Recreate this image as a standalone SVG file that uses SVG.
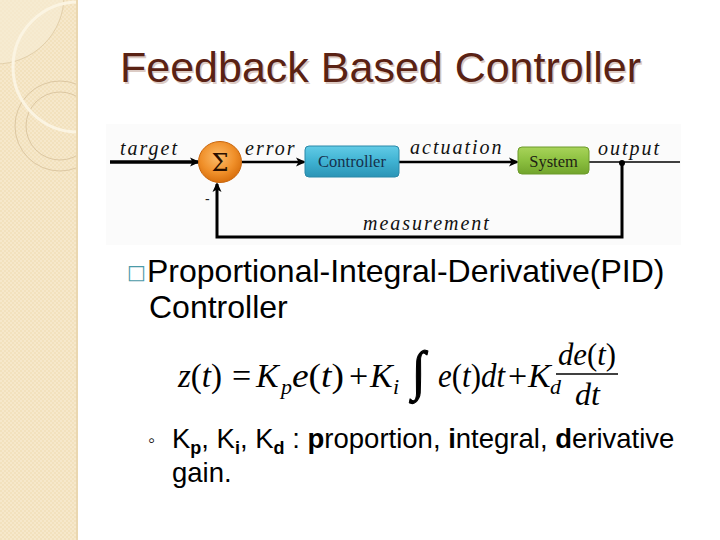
<svg xmlns="http://www.w3.org/2000/svg" width="720" height="540" viewBox="0 0 720 540">
  <defs>
    <pattern id="chk" width="4" height="4" patternUnits="userSpaceOnUse">
      <rect width="4" height="4" fill="#f2e1bd"/>
      <rect width="2" height="2" fill="#f6e8cb"/>
      <rect x="2" y="2" width="2" height="2" fill="#f6e8cb"/>
    </pattern>
    <clipPath id="stripClip"><rect x="0" y="0" width="78" height="540"/></clipPath>
    <radialGradient id="orange" cx="45%" cy="38%" r="65%">
      <stop offset="0" stop-color="#fcbc6a"/>
      <stop offset="0.6" stop-color="#f0902a"/>
      <stop offset="1" stop-color="#d66c0a"/>
    </radialGradient>
    <linearGradient id="blue" x1="0" y1="0" x2="0" y2="1">
      <stop offset="0" stop-color="#62cbe6"/>
      <stop offset="0.5" stop-color="#3fb2d2"/>
      <stop offset="1" stop-color="#2b94b6"/>
    </linearGradient>
    <linearGradient id="green" x1="0" y1="0" x2="0" y2="1">
      <stop offset="0" stop-color="#a8d45a"/>
      <stop offset="0.5" stop-color="#8cc040"/>
      <stop offset="1" stop-color="#72a42c"/>
    </linearGradient>
    <marker id="arr" viewBox="0 0 10 10" refX="8" refY="5" markerWidth="10" markerHeight="10" markerUnits="userSpaceOnUse" orient="auto">
      <path d="M0,0.5 L10,5 L0,9.5 L2.5,5 z" fill="#000"/>
    </marker>
    <style>
      .lbl { font-family: "Liberation Serif", "Times New Roman", serif; font-style: italic; font-size: 20px; letter-spacing: 2px; fill: #111; }
      .box { font-family: "Liberation Serif", "Times New Roman", serif; font-size: 16.5px; text-anchor: middle; }
      .body { font-family: "Liberation Sans", Arial, sans-serif; fill: #000; }
      .math { font-family: "Liberation Serif", "Times New Roman", serif; font-size: 34px; fill: #000; }
      .frac { font-family: "Liberation Serif", "Times New Roman", serif; font-size: 32px; fill: #000; }
      .sub { font-family: "Liberation Serif", "Times New Roman", serif; font-size: 22px; font-style: italic; fill: #000; }
      .it { font-style: italic; }
      .ln { fill: none; stroke: #000; }
    </style>
  </defs>

  <rect width="720" height="540" fill="#ffffff"/>

  <!-- decorative left strip -->
  <g id="strip">
    <rect x="0" y="0" width="78" height="540" fill="url(#chk)"/>
    <g clip-path="url(#stripClip)">
      <circle cx="-4" cy="-4" r="68" fill="#f7ecd6" fill-opacity="0.6" stroke="#e2cfaa" stroke-width="1"/>
      <circle cx="60" cy="126" r="45" fill="none" stroke="#dcc7a2" stroke-width="1"/>
      <circle cx="60" cy="126" r="34" fill="none" stroke="#dcc7a2" stroke-width="1"/>
      <circle cx="78" cy="67" r="65" fill="none" stroke="#fbf4e2" stroke-width="3"/>
    </g>
    <rect x="76" y="0" width="2" height="540" fill="#ead7b0"/>
  </g>

  <!-- title -->
  <g id="title">
    <text x="121.5" y="83.5" font-family="Liberation Sans, Arial, sans-serif" font-size="43" fill="#dccbc4">Feedback Based Controller</text>
    <text x="120" y="82" font-family="Liberation Sans, Arial, sans-serif" font-size="43" fill="#5a2214">Feedback Based Controller</text>
  </g>

  <!-- block diagram background -->
  <rect x="106" y="124" width="575" height="121" fill="#fbfbfb"/>

  <!-- connectors -->
  <g id="connectors">
    <path class="ln" d="M110,162 H198" stroke-width="3.5" marker-end="url(#arr)"/>
    <path class="ln" d="M242,162 H304" stroke-width="2.5" marker-end="url(#arr)"/>
    <path class="ln" d="M399,162 H517" stroke-width="2.5" marker-end="url(#arr)"/>
    <path class="ln" d="M589,162 H680" stroke-width="1.6"/>
    <path class="ln" d="M622,163 V237 H217 V184" stroke-width="3" marker-end="url(#arr)"/>
    <circle cx="622" cy="163" r="3" fill="#000"/>
  </g>

  <!-- nodes -->
  <g id="sum">
    <ellipse cx="220" cy="162" rx="21.5" ry="20.5" fill="url(#orange)" stroke="#c9660c" stroke-width="1"/>
    <text x="220" y="171" font-family="DejaVu Serif, Liberation Serif, serif" font-size="24" text-anchor="middle" fill="#2a1000">Σ</text>
  </g>
  <g id="controller">
    <rect x="305" y="146" width="94" height="31" rx="4" fill="url(#blue)" stroke="#2a88a8" stroke-width="1"/>
    <text class="box" x="352" y="167" fill="#16304c">Controller</text>
  </g>
  <g id="system">
    <rect x="518" y="147" width="71" height="27" rx="4" fill="url(#green)" stroke="#6c9a2a" stroke-width="1"/>
    <text class="box" x="553.5" y="166.5" fill="#1e1e14">System</text>
  </g>

  <!-- diagram labels -->
  <g id="labels">
    <text class="lbl" x="120" y="155">target</text>
    <text class="lbl" x="245" y="155">error</text>
    <text class="lbl" x="410" y="154">actuation</text>
    <text class="lbl" x="598" y="155">output</text>
    <text class="lbl" x="363" y="230">measurement</text>
    <text x="205" y="204" font-family="Liberation Sans, Arial, sans-serif" font-size="14" fill="#222">-</text>
  </g>

  <!-- bullet text -->
  <g id="bullet1">
    <text x="127" y="279" font-family="DejaVu Sans, sans-serif" font-size="20" fill="#4b9aa8">□</text>
    <text class="body" x="147" y="282" font-size="32">Proportional-Integral-Derivative(PID)</text>
    <text class="body" x="149" y="318" font-size="32">Controller</text>
  </g>

  <!-- formula -->
  <g id="formula">
    <text class="math" x="178" y="387" textLength="44" lengthAdjust="spacingAndGlyphs"><tspan class="it">z</tspan>(<tspan class="it">t</tspan>)</text>
    <text class="math" x="232" y="387">=</text>
    <text class="math it" x="256" y="387">K</text>
    <text class="sub" x="281" y="394">p</text>
    <text class="math" x="292" y="387" textLength="52" lengthAdjust="spacingAndGlyphs"><tspan class="it">e</tspan>(<tspan class="it">t</tspan>)</text>
    <text class="math" x="349" y="387">+</text>
    <text class="math it" x="370" y="387">K</text>
    <text class="sub" x="393" y="394">i</text>
    <text class="math" x="0" y="0" stroke="#000" stroke-width="0.7" transform="translate(412,389) scale(1.45,1.6)">∫</text>
    <text class="math" x="438" y="387" textLength="67" lengthAdjust="spacingAndGlyphs"><tspan class="it">e</tspan>(<tspan class="it">t</tspan>)<tspan class="it">dt</tspan></text>
    <text class="math" x="508" y="387">+</text>
    <text class="math it" x="528" y="387">K</text>
    <text class="sub" x="550" y="394">d</text>
    <text class="frac" x="558" y="365" textLength="58" lengthAdjust="spacingAndGlyphs"><tspan class="it">de</tspan>(<tspan class="it">t</tspan>)</text>
    <line x1="556" y1="374" x2="618" y2="374" stroke="#000" stroke-width="1.5"/>
    <text class="frac it" x="575" y="405">dt</text>
  </g>

  <!-- sub-bullet -->
  <g id="bullet2">
    <text class="body" x="148" y="447" font-size="20" fill="#6a7a80">◦</text>
    <text class="body" x="172" y="448" font-size="27.5">K<tspan font-size="18" font-weight="bold" dy="6">p</tspan><tspan dy="-6">, K</tspan><tspan font-size="18" font-weight="bold" dy="6">i</tspan><tspan dy="-6">, K</tspan><tspan font-size="18" font-weight="bold" dy="6">d</tspan><tspan dy="-6"> : </tspan><tspan font-weight="bold">p</tspan>roportion, <tspan font-weight="bold">i</tspan>ntegral, <tspan font-weight="bold">d</tspan>erivative</text>
    <text class="body" x="172" y="482" font-size="27.5">gain.</text>
  </g>
</svg>
